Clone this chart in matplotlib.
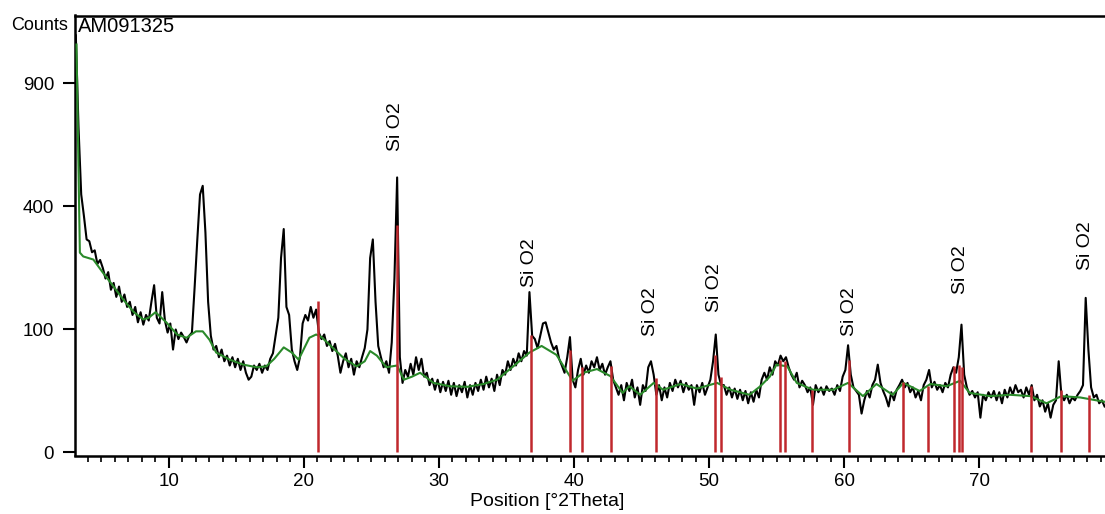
import numpy as np
import matplotlib.pyplot as plt

plt.rcParams['font.family'] = ['Liberation Sans', 'DejaVu Sans']

start_2theta = 3.1
step_2theta = 0.2
counts = [
    1150, 700, 440, 370, 300, 295, 265, 270, 235, 245,   # 3.1 - 4.9
    225, 200, 215, 175, 190, 160, 182, 150, 165, 140,    # 5.1 - 6.9
    150, 125, 140, 112, 130, 108, 125, 115, 150, 185,    # 7.1 - 8.9
    120, 110, 170, 115, 95, 110, 70, 100, 85, 95,        # 9.1 - 10.9
    88, 80, 90, 95, 180, 300, 440, 470, 320, 150,        # 11.1 - 12.9
    90, 70, 75, 60, 70, 55, 62, 50, 60, 48,              # 13.1 - 14.9
    58, 45, 55, 42, 35, 38, 50, 45, 52, 42,              # 15.1 - 16.9
    50, 45, 58, 65, 90, 120, 250, 330, 140, 125,         # 17.1 - 18.9
    70, 55, 45, 60, 110, 125, 115, 140, 120, 135,        # 19.1 - 20.9
    95, 85, 92, 75, 82, 68, 78, 62, 42, 55,              # 21.1 - 22.9
    65, 48, 58, 40, 55, 48, 60, 72, 100, 250,            # 23.1 - 24.9
    300, 150, 75, 60, 48, 55, 42, 80, 200, 500,          # 25.1 - 26.9
    60, 32, 45, 38, 52, 40, 60, 45, 58, 38,              # 27.1 - 28.9
    42, 30, 36, 26, 35, 24, 33, 25, 34, 22,              # 29.1 - 30.9
    32, 21, 30, 24, 33, 20, 30, 22, 32, 25,              # 31.1 - 32.9
    35, 26, 38, 28, 36, 25, 40, 30, 45, 40,              # 33.1 - 34.9
    55, 45, 58, 50, 65, 55, 68, 62, 170, 90,             # 35.1 - 36.9
    85, 72, 90, 110, 112, 95, 80, 70, 75, 58,            # 37.1 - 38.9
    50, 42, 60, 88, 35, 28, 45, 58, 40, 50,              # 39.1 - 40.9
    42, 55, 48, 60, 45, 52, 40, 48, 55, 35,              # 41.1 - 42.9
    28, 22, 30, 18, 32, 25, 35, 20, 28, 15,              # 43.1 - 44.9
    30, 25, 48, 55, 40, 22, 30, 18, 28, 20,              # 45.1 - 46.9
    32, 25, 35, 28, 34, 24, 32, 26, 30, 15,              # 47.1 - 48.9
    30, 24, 32, 22, 28, 35, 55, 92, 40, 30,              # 49.1 - 50.9
    30, 22, 28, 20, 27, 19, 26, 18, 25, 16,              # 51.1 - 52.9
    24, 17, 26, 20, 35, 42, 35, 48, 40, 55,              # 53.1 - 54.9
    50, 62, 55, 60, 48, 40, 35, 42, 28, 34,              # 55.1 - 56.9
    30, 24, 28, 15, 30, 24, 28, 22, 29, 25,              # 57.1 - 58.9
    27, 22, 30, 25, 38, 45, 76, 40, 28, 25,              # 59.1 - 60.9
    22, 10, 18, 25, 20, 30, 35, 51, 32, 25,              # 61.1 - 62.9
    20, 14, 24, 18, 26, 30, 35, 28, 32, 24,              # 63.1 - 64.9
    28, 20, 25, 18, 30, 35, 45, 28, 33, 26,              # 65.1 - 66.9
    30, 24, 32, 28, 40, 48, 42, 60, 108, 40,             # 67.1 - 68.9
    28, 22, 25, 20, 24, 8, 22, 18, 24, 20,               # 69.1 - 70.9
    25, 18, 24, 16, 26, 20, 28, 22, 30, 24,              # 71.1 - 72.9
    26, 20, 28, 22, 30, 18, 22, 14, 18, 11,              # 73.1 - 74.9
    16, 8, 15, 18, 55, 22, 18, 22, 16, 20,               # 75.1 - 76.9
    18, 22, 25, 30, 158, 70, 28, 20, 22, 16,             # 77.1 - 78.9
    18, 14,                                              # 79.1 - 79.3
]

# fitted background (green)
bg_pos = [3.15, 3.4, 3.65, 4.4, 5.1, 5.9, 6.6, 7.4, 8.1, 8.5, 9.0, 9.8, 10.6,
          11.3, 12.0, 12.5, 13.0, 13.5, 14.5, 15.5, 16.5, 17.2, 17.8, 18.5,
          19.1, 19.6, 20.4, 20.9, 21.3, 22.1, 23.0, 23.9, 24.5, 24.9, 25.4,
          26.1, 26.9, 27.4, 28.0, 28.6, 29.6, 30.8, 32.1, 33.3, 34.3, 35.5,
          36.7, 37.6, 38.7, 39.9, 40.7, 41.7, 42.7, 43.6, 44.1, 44.9, 45.9,
          46.6, 47.9, 49.1, 50.6, 51.6, 53.0, 53.8, 54.5, 55.0, 55.8, 56.5,
          57.7, 59.2, 60.3, 61.4, 62.4, 63.6, 64.4, 65.6, 66.4, 67.6, 68.6,
          69.3, 70.8, 72.3, 73.8, 75.0, 76.1, 77.5, 79.3]
bg_counts = [1100, 264, 254, 246, 214, 182, 155, 130, 117, 120, 130, 112, 92,
             87, 97, 97, 84, 66, 57, 51, 48, 49, 58, 73,
             66, 57, 87, 92, 88, 73, 58, 49, 55, 68, 62,
             48, 50, 35, 38, 42, 32, 29, 28.5, 31, 35, 49,
             66, 75, 63, 34, 42, 46, 38.5, 23.5, 29, 22, 32,
             26, 31, 27, 32, 26, 22, 29, 38, 51, 49, 32,
             26, 26, 32, 21, 31, 22, 32, 25, 31, 29, 34,
             23.5, 21, 22, 21, 16, 21, 20, 17]

# reference pattern sticks (Si O2)
stick_pos = [21.06, 26.9, 36.85, 39.7, 40.57, 42.72, 46.1, 50.45, 50.86,
             55.26, 55.63, 57.65, 60.37, 64.4, 66.25, 68.15, 68.52, 68.76,
             73.85, 76.1, 78.15]
stick_counts = [151, 341, 92, 70, 48, 49, 37, 63, 38,
                57, 55, 26, 57, 33, 29, 49, 51, 48,
                29, 26, 22]

# peak labels
label_pos = [26.8, 36.7, 45.7, 50.4, 60.4, 68.6, 77.9]
label_counts = [599, 180, 89, 130, 89, 165, 221]
label_text = "Si O2"

two_theta = start_2theta + step_2theta * np.arange(len(counts))


def fwd(v):
    return np.sign(v) * np.sqrt(np.abs(v))


def inv(v):
    return np.sign(v) * v ** 2


fig = plt.figure(figsize=(11.05, 5.14), dpi=100)
ax = fig.add_axes([75 / 1105, 1 - 455.5 / 514, 1030 / 1105, 440 / 514])
ax.set_yscale('function', functions=(fwd, inv))

ax.plot(two_theta, counts, color='black', lw=1.5, zorder=2)
ax.plot(bg_pos, bg_counts, color='#2a8a2a', lw=1.5, zorder=3)
ax.vlines(stick_pos, 0, stick_counts, color='#c0282d', lw=1.8, zorder=4)

for x, y in zip(label_pos, label_counts):
    ax.text(x, y, label_text, rotation=90, ha='center', va='bottom', fontsize=14)

ax.set_xlim(3.04, 79.33)
ax.set_ylim(-0.06, 1262)

ax.set_yticks([0, 100, 400, 900])
ax.set_yticklabels(['0', '100', '400', '900'])
ax.set_xticks(range(10, 80, 10))
ax.set_xticks(range(4, 80), minor=True)
ax.tick_params(axis='y', length=9, width=1.5, pad=6, labelsize=13.5)
ax.tick_params(axis='x', which='major', length=8.5, width=1.5, pad=4, labelsize=13.5)
ax.tick_params(axis='x', which='minor', length=4, width=1.2)
ax.yaxis.set_minor_locator(plt.NullLocator())

for side in ['left', 'bottom', 'top']:
    ax.spines[side].set_linewidth(1.8)
ax.spines['right'].set_visible(False)

fig.text(11 / 1105, 1 - 25 / 514, 'Counts', fontsize=13, va='center', ha='left')
fig.text(78 / 1105, 1 - 27 / 514, 'AM091325', fontsize=14.5, va='center', ha='left')
fig.text(547 / 1105, 1 - 502 / 514, 'Position [°2Theta]', fontsize=14,
         va='center', ha='center')

fig.savefig('out.png', dpi=100)
